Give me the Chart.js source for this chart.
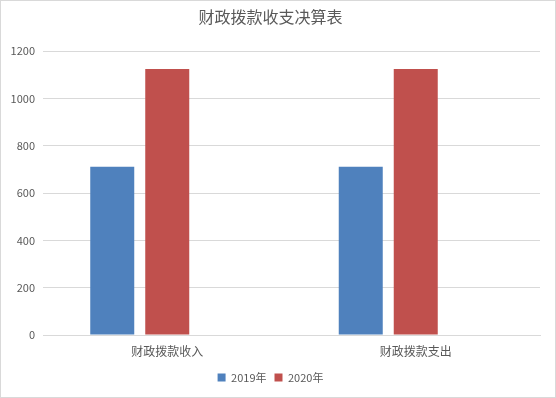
<!DOCTYPE html>
<html>
<head>
<meta charset="utf-8">
<script src="https://cdn.jsdelivr.net/npm/chart.js@4/dist/chart.umd.min.js"></script>
<style>
    html, body { margin: 0; padding: 0; background: #fff; }
    #wrap {
        width: 556px; height: 398px; box-sizing: border-box;
        border: 1px solid #d9d9d9; position: relative;
    }
    canvas { display: block; }
</style>
</head>
<body>
<div id="wrap"><canvas id="barChart" width="554" height="396"></canvas></div>
<script>
// Chart data
const categories = ['财政拨款收入', '财政拨款支出'];
const seriesNames = ['2019年', '2020年'];
const values2019 = [711, 711];
const values2020 = [1125, 1125];
// Excel left an empty third slot in each group
const emptySlot = [null, null];
const yTicks = [0, 200, 400, 600, 800, 1000, 1200];

const fontFamily = '"Noto Sans CJK SC", "Noto Sans", sans-serif';
const textColor = '#595959';

const ctx = document.getElementById('barChart').getContext('2d');
new Chart(ctx, {
    type: 'bar',
    data: {
        labels: categories,
        datasets: [
            { label: seriesNames[0], data: values2019, backgroundColor: '#4f81bd' },
            { label: seriesNames[1], data: values2020, backgroundColor: '#c0504d' },
            { label: '', data: emptySlot, backgroundColor: 'rgba(0,0,0,0)' }
        ]
    },
    options: {
        responsive: false,
        animation: false,
        categoryPercentage: 0.664,
        barPercentage: 0.8,
        layout: { padding: { left: 0, right: 15, top: 0, bottom: 4 } },
        scales: {
            x: {
                grid: { display: false, drawTicks: false },
                border: { color: '#d9d9d9' },
                ticks: {
                    color: textColor,
                    padding: 9,
                    font: { family: fontFamily, size: 12 }
                },
                afterFit: (scale) => { scale.height = 29; }
            },
            y: {
                min: 0,
                max: 1200,
                afterBuildTicks: (scale) => { scale.ticks = yTicks.map(v => ({ value: v })); },
                grid: { color: '#d9d9d9', drawTicks: false },
                border: { display: false },
                ticks: {
                    color: textColor,
                    padding: 8,
                    font: { family: fontFamily, size: 11 },
                    callback: (value) => String(value)
                },
                afterFit: (scale) => { scale.width = 42; }
            }
        },
        plugins: {
            title: {
                display: true,
                text: '财政拨款收支决算表',
                color: textColor,
                font: { family: fontFamily, size: 16, weight: 'normal' },
                padding: { top: 6, bottom: 25 }
            },
            legend: {
                position: 'bottom',
                labels: {
                    color: textColor,
                    boxWidth: 8,
                    boxHeight: 8,
                    padding: 8,
                    font: { family: fontFamily, size: 11 },
                    filter: (item) => item.text !== ''
                }
            },
            tooltip: { enabled: false }
        }
    }
});
</script>
</body>
</html>
